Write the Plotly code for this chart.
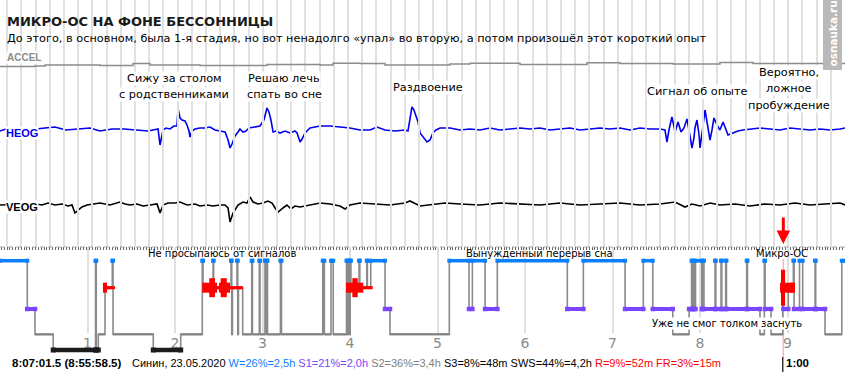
import plotly.graph_objects as go

# ======================= DATA =======================
TITLE = "МИКРО-ОС НА ФОНЕ БЕССОННИЦЫ"
SUBTITLE = ("До этого, в основном, была 1-я стадия, но вот ненадолго «упал» во вторую, "
            "а потом произошёл этот короткий опыт")

# 1-minute epoch, time in seconds, amplitude in µV
HEOG = [(-0.50,-10),(-0.08,10),(0.35,0),(0.91,20),(1.40,-10),(2.04,10),(2.67,20),(3.37,30),(4.15,0),
        (4.99,10),(5.84,20),(6.54,-10),(7.39,10),(8.23,10),(9.08,0),(9.92,-10),(10.63,10),(10.77,-150),
        (10.84,-100),(10.98,0),(11.19,20),(11.47,10),(11.75,40),(11.96,40),(12.04,210),(12.18,120),
        (12.32,100),(12.53,90),(12.67,50),(12.81,-10),(12.88,-70),(13.02,-10),(13.23,10),(13.58,20),
        (13.94,20),(14.29,30),(14.64,0),(14.99,-10),(15.35,-20),(15.56,-100),(15.70,-180),(15.84,-140),
        (16.05,-60),(16.26,-20),(16.40,10),(16.61,-20),(16.82,-10),(17.04,20),(17.46,30),(17.81,40),
        (18.09,100),(18.30,220),(18.44,180),(18.58,100),(18.73,-20),(18.94,-10),(19.22,-30),(19.57,-10),
        (19.92,-30),(20.27,-10),(20.42,-30),(20.63,-120),(20.77,-90),(20.98,-30),(21.33,20),(22.04,40),
        (22.74,40),(23.44,30),(24.15,20),(24.85,0),(25.56,0),(26.05,30),(26.61,0),(27.32,-10),(28.02,0),
        (28.23,-10),(28.37,100),(28.51,230),(28.65,200),(28.80,140),(28.94,80),(29.08,-30),(29.36,-80),
        (29.57,-120),(29.78,-100),(29.99,-30),(30.20,0),(30.49,20),(31.19,20),(31.89,0),(32.60,10),
        (33.30,0),(34.01,20),(34.71,0),(35.42,10),(36.12,20),(36.82,10),(37.53,20),(38.23,0),(38.94,10),
        (39.64,20),(40.35,0),(41.05,10),(41.75,20),(42.46,10),(43.16,20),(43.87,0),(44.57,20),(45.27,10),
        (45.98,10),(46.33,0),(46.47,-120),(46.61,0),(46.82,130),(46.96,40),(47.04,-20),(47.25,80),
        (47.46,-20),(47.67,20),(47.88,110),(48.02,0),(48.23,-180),(48.37,-80),(48.44,20),(48.58,100),
        (48.73,-50),(48.80,-180),(48.94,-20),(49.15,200),(49.29,80),(49.50,-100),(49.64,0),(49.78,120),
        (49.99,50),(50.20,0),(50.42,80),(50.63,0),(50.77,-50),(51.12,-30),(51.47,-10),(51.82,0),
        (52.32,10),(53.02,20),(53.73,10),(54.43,0),(55.13,20),(55.84,10),(56.54,0),(57.25,10),
        (57.95,0),(58.66,10),(59.01,20)]

VEOG = [(-0.50,0),(2.04,10),(2.46,0),(2.88,20),(3.37,0),(3.87,10),(4.29,-10),(4.57,0),(4.78,-80),
        (4.99,-50),(5.27,-20),(5.63,0),(6.05,10),(6.54,20),(7.25,0),(7.81,20),(7.95,30),(8.30,10),
        (8.65,0),(9.15,10),(9.57,-10),(10.06,0),(10.56,10),(10.77,-80),(10.98,0),(11.33,20),(11.82,20),
        (12.18,30),(12.67,0),(13.23,10),(13.58,-10),(14.08,0),(14.50,-10),(14.99,0),(15.35,0),
        (15.56,-30),(15.70,-170),(15.91,-80),(16.26,0),(16.61,30),(16.89,20),(17.11,80),(17.32,30),
        (17.67,10),(18.02,20),(18.37,40),(18.66,20),(18.87,-30),(19.08,-70),(19.43,-30),(19.71,0),
        (19.99,-40),(20.27,-10),(20.63,-20),(21.33,0),(22.04,20),(22.74,10),(23.44,-10),(23.80,-40),
        (24.15,0),(24.85,20),(25.91,10),(26.97,0),(28.02,20),(28.37,40),(29.08,-10),(29.78,0),
        (30.84,20),(31.89,10),(33.30,0),(34.71,20),(36.12,10),(37.53,0),(38.94,20),(40.35,0),
        (41.75,10),(43.16,20),(44.57,0),(45.98,10),(47.04,30),(47.74,-20),(48.23,10),(48.80,-10),
        (49.50,20),(50.20,0),(51.26,10),(52.32,-10),(53.37,10),(54.43,0),(55.49,20),(56.54,0),
        (57.60,10),(58.66,20),(59.01,0)]

ACCEL = [(-0.50,-25),(1.96,-20),(2.67,-10),(4.43,-10),(6.54,-15),(8.87,5),(10.06,-10),(12.18,-10),
         (13.58,-15),(18.30,-5),(22.04,-10),(22.95,7),(24.85,5),(26.61,-10),(29.08,-10),(31.19,0),
         (32.60,7),(36.12,-5),(38.94,-5),(40.84,13),(43.16,5),(46.89,0),(50.20,15),(52.53,5),
         (55.84,5),(59.01,5)]

EOG_NOTES = ["Сижу за столом<br>с родственниками", "Решаю лечь<br>спать во сне", "Раздвоение",
             "Сигнал об опыте", "Вероятно,<br>ложное<br>пробуждение"]

# hypnogram: stage changes (minutes from start)
stage_start_min = [0.0, 18.7, 24.0, 36.5, 65.5, 66.0, 67.4, 72.0, 77.0, 77.5, 105.1, 123.9, 138.7,
                   139.2, 146.1, 146.5, 158.4, 158.9, 159.4, 162.5, 163.0, 163.5, 166.4, 172.6, 173.1,
                   177.8, 178.3, 181.7, 182.2, 182.9, 183.4, 192.3, 193.0, 221.3, 222.4, 227.0, 228.5,
                   237.6, 238.1, 239.0, 239.5, 240.1, 240.6, 246.2, 246.7, 251.5, 251.9, 254.2, 264.0,
                   267.4, 308.1, 321.6, 323.9, 332.6, 341.0, 389.0, 400.0, 428.6, 441.1, 447.6, 461.3,
                   472.5, 474.2, 474.6, 475.5, 476.0, 476.9, 481.2, 481.6, 482.7, 490.3, 490.8, 494.4,
                   494.9, 497.6, 498.1, 512.0, 512.5, 521.1, 524.1, 524.6, 528.7, 536.7, 537.2, 540.5,
                   544.0, 544.5, 548.2, 550.4, 558.9, 559.3, 565.7, 577.2]
stage_seq = ["W","S1","S2","S3","W","S3","S2","R","W","S2","S3","S2","W","R","W","R","W","S2","R",
             "W","S2","R","S2","W","S2","W","S2","W","S2","W","S2","W","S2","W","S2","W","S2","W",
             "S2","W","S2","W","R","W","R","W","R","W","S1","S2","W","S1","W","S1","W","S1","W","S1",
             "W","S1","S2","S1","W","S1","W","S1","W","S1","W","S1","W","S1","W","S1","W","S1","W",
             "S1","S2","W","S1","S2","R","S1","R","W","S1","W","S1","W","S1","S2","W"]
night_end_min = 579.4

# rapid-eye-movement bursts drawn on the R row
rem_start_min = [70.6, 70.6, 138.7, 138.7, 143.5, 150.2, 151.3, 237.3, 237.3, 241.6, 534.9, 534.9, 535.5, 541.7]
rem_end_min   = [78.9, 73.4, 166.4, 148.8, 147.4, 157.7, 155.5, 255.6, 249.1, 245.3, 545.1, 545.1, 538.3, 543.6]
rem_level     = [1, 2, 1, 2, 3, 2, 3, 1, 2, 3, 1, 2, 4, 2]

hour_ticks_min = [60, 120, 180, 240, 300, 360, 420, 480, 540]
hour_labels = ["1", "2", "3", "4", "5", "6", "7", "8", "9"]
microos_min = 537.1

HYPNO_NOTES = ["Не просыпаюсь от сигналов", "Вынужденный перерыв сна", "Микро-ОС",
               "Уже не смог толком заснуть"]
RECORD_TIME = "8:07:01.5 (8:55:58.5)"
RECORD_INFO = "Синин, 23.05.2020"
STATS = [("W=26%=2,5h", "W"), ("S1=21%=2,0h", "S1"), ("S2=36%=3,4h", "S2"),
         ("S3=8%=48m SWS=44%=4,2h", "S3"), ("R=9%=52m FR=3%=15m", "R")]
EPOCH_LABEL = "1:00"
WATERMARK = "osnauka.ru"

assert len(stage_start_min) == len(stage_seq)

# ======================= STYLE / LAYOUT =======================
WPX, HPX = 845, 372
def py(p):  # pixel row -> paper y
    return 1 - p / HPX
def px(p):
    return p / WPX

EOG_TOP_BOTTOM = 247          # bottom of EOG panel (px)
HOUR_GRID_BOTTOM = 333
STAGE_LEVEL = {"W": 0, "R": 1.0, "S1": 1.79, "S2": 2.73, "S3": 3.31}
STAGE_COLOR = {"W": "#0a80ff", "R": "#ff0000", "S1": "#7b45ff", "S2": "#808080", "S3": "#1c1c1c"}
STAGE_WIDTH = {"W": 3.5, "R": 3, "S1": 4, "S2": 2, "S3": 4.5}
REM_WIDTH = {1: 3, 2: 10, 3: 19, 4: 36}
GRID = "#e0e0e0"
SANS = "DejaVu Sans"
ARIAL = "Liberation Sans"

fig = go.Figure()

# empty trace that owns the hour-grid subplot
fig.add_trace(go.Scatter(x=[None], y=[None], xaxis="x2", yaxis="y2", hoverinfo="skip", showlegend=False))

# ---- EOG panel ----
def unzip(pairs):
    return [a for a, _ in pairs], [b for _, b in pairs]

t, v = unzip(ACCEL)
fig.add_trace(go.Scatter(x=t, y=v, xaxis="x", yaxis="y6", mode="lines",
                         line=dict(color="#8c8c8c", width=1.5, shape="hv"), hoverinfo="skip"))
t, v = unzip(HEOG)
fig.add_trace(go.Scatter(x=t, y=v, xaxis="x", yaxis="y4", mode="lines",
                         line=dict(color="#0000ee", width=1.6), hoverinfo="skip"))
t, v = unzip(VEOG)
fig.add_trace(go.Scatter(x=t, y=v, xaxis="x", yaxis="y5", mode="lines",
                         line=dict(color="#000000", width=1.6), hoverinfo="skip"))

# ---- hypnogram ----
ends = stage_start_min[1:] + [night_end_min]
levels = [STAGE_LEVEL[s] for s in stage_seq]
fig.add_trace(go.Scatter(x=stage_start_min + [night_end_min], y=levels + [levels[-1]],
                         xaxis="x3", yaxis="y3", mode="lines",
                         line=dict(color="#8a8a8a", width=1.6, shape="hv"), hoverinfo="skip"))

for st in ["S2", "R", "S3", "S1", "W"]:
    xs, ys = [], []
    for s0, s1, s in zip(stage_start_min, ends, stage_seq):
        if s == st:
            xs += [s0, s1, None]
            ys += [STAGE_LEVEL[s], STAGE_LEVEL[s], None]
    with_mark = st in ("W", "S1", "S3")
    fig.add_trace(go.Scatter(x=xs, y=ys, xaxis="x3", yaxis="y3",
                             mode="lines+markers" if with_mark else "lines",
                             line=dict(color=STAGE_COLOR[st], width=STAGE_WIDTH[st]),
                             marker=dict(symbol="square", size=STAGE_WIDTH[st] + 0.5,
                                         color=STAGE_COLOR[st], line=dict(width=0)),
                             hoverinfo="skip"))

for lvl in sorted(set(rem_level)):
    xs, ys = [], []
    for a, b, l in zip(rem_start_min, rem_end_min, rem_level):
        if l == lvl:
            xs += [a, b, None]
            ys += [STAGE_LEVEL["R"], STAGE_LEVEL["R"], None]
    fig.add_trace(go.Scatter(x=xs, y=ys, xaxis="x3", yaxis="y3", mode="lines",
                             line=dict(color="#ff0000", width=REM_WIDTH[lvl]), hoverinfo="skip"))

# ---- annotations ----
ann = []
def text(x, y, s, size=12, color="black", family=SANS, xanchor="center", bg=None, **kw):
    d = dict(x=px(x), y=py(y), xref="paper", yref="paper", text=s, showarrow=False,
             xanchor=xanchor, yanchor="middle", font=dict(size=size, color=color, family=family),
             borderpad=0)
    if bg:
        d["bgcolor"] = bg
    d.update(kw)
    ann.append(d)

text(6, 22, "<b>" + TITLE + "</b>", size=13, color="#1a1a1a", xanchor="left")
text(6, 38, SUBTITLE, size=11.3, xanchor="left")
text(6, 58, "<b>ACCEL</b>", size=10, color="#8c8c8c", family=ARIAL, xanchor="left", bg="white")
text(5, 132.5, "<b>HEOG</b>", size=11, color="#0000ee", family=ARIAL, xanchor="left", bg="white")
text(5, 207.5, "<b>VEOG</b>", size=11, color="black", family=ARIAL, xanchor="left", bg="white")

EOG_NOTE_POS = [(174, 78), (284, 78), (428, 87), (697, 91), (789, 72)]
LINE_STEP = 16.7
for note, (cx, y0) in zip(EOG_NOTES, EOG_NOTE_POS):
    for i, line in enumerate(note.split("<br>")):
        text(cx, y0 + i * LINE_STEP, line, size=11.3, bg="white")

HYPNO_NOTE_POS = [(222, 254, None), (539.5, 254, None), (782, 253.5, None), (727, 323, "white")]
for note, (cx, cy, bg) in zip(HYPNO_NOTES, HYPNO_NOTE_POS):
    text(cx, cy, note, size=10, bg=bg)

text(10.7, 363, "<b>" + RECORD_TIME + "</b>", size=11.5, family=ARIAL, xanchor="left")
stat_html = RECORD_INFO + " " + " ".join(
    '<span style="color:%s">%s</span>' % (STAGE_COLOR[k] if k != "S3" else "#000000", s) for s, k in STATS)
text(130.7, 363, stat_html, size=11, family=ARIAL, xanchor="left")
text(785, 363, "<b>" + EPOCH_LABEL + "</b>", size=11.5, family=ARIAL, xanchor="left")

# vertical site watermark in a grey box at the top-right corner
ann.append(dict(x=px(832.5), y=py(34), xref="paper", yref="paper", text="<b>" + WATERMARK + "</b>",
                showarrow=False, textangle=-90, font=dict(size=10.5, color="white", family=SANS),
                bgcolor="#b9b9b9", borderpad=3, xanchor="center", yanchor="middle"))

# arrow marking the micro-OBE
ann.append(dict(x=microos_min, xref="x3", y=py(244), yref="paper", text="", showarrow=True,
                ax=0, ay=-28, arrowhead=2, arrowsize=0.9, arrowwidth=3, arrowcolor="#ff0000", standoff=0))

shapes = [
    dict(type="line", xref="paper", yref="paper", x0=0, x1=1, y0=py(EOG_TOP_BOTTOM), y1=py(EOG_TOP_BOTTOM),
         line=dict(color="#a8a8a8", width=1, dash="5px,3px")),
    dict(type="line", xref="x3", yref="paper", x0=microos_min, x1=microos_min, y0=0, y1=py(259),
         line=dict(color="#ffb4b4", width=1.5), layer="below"),
    dict(type="line", xref="x3", yref="paper", x0=microos_min - 0.4, x1=microos_min - 0.4, y0=0, y1=py(357),
         line=dict(color="#000000", width=1)),
]

eog_dom = [py(EOG_TOP_BOTTOM), 1]
fig.update_layout(
    width=WPX, height=HPX, autosize=False, margin=dict(l=0, r=0, t=0, b=0),
    paper_bgcolor="white", plot_bgcolor="rgba(0,0,0,0)", showlegend=False,
    xaxis=dict(domain=[0, 1], range=[-0.5, 59.007], anchor="y", side="top", showgrid=True,
               gridcolor=GRID, gridwidth=2, tick0=0, dtick=1, ticks="inside", ticklen=3,
               tickcolor="#666666", tickwidth=1, showticklabels=False, zeroline=False, showline=False,
               minor=dict(dtick=0.2, ticks="inside", ticklen=3, tickcolor="#666666", showgrid=False)),
    yaxis=dict(domain=eog_dom, range=[EOG_TOP_BOTTOM, 0], anchor="x", tickvals=[147, 221],
               showgrid=True, gridcolor=GRID, gridwidth=2, showticklabels=False, ticks="",
               zeroline=False, showline=False),
    yaxis4=dict(overlaying="y", anchor="x", domain=eog_dom, range=[-1170, 1300], visible=False),
    yaxis5=dict(overlaying="y", anchor="x", domain=eog_dom, range=[-420, 2050], visible=False),
    yaxis6=dict(overlaying="y", anchor="x", domain=eog_dom, range=[-1830, 640], visible=False),
    xaxis2=dict(domain=[0, 1], range=[0, night_end_min], anchor="y2", tickvals=hour_ticks_min,
                ticktext=hour_labels, showgrid=True, gridcolor=GRID, gridwidth=2, ticks="",
                tickfont=dict(size=14, color="#8a8a8a", family=SANS), zeroline=False, showline=False),
    yaxis2=dict(domain=[py(HOUR_GRID_BOTTOM), py(EOG_TOP_BOTTOM)], range=[0, 1], anchor="x2", visible=False),
    xaxis3=dict(domain=[0, 1], range=[0, night_end_min], anchor="y3", visible=False),
    yaxis3=dict(domain=[0, py(EOG_TOP_BOTTOM)], range=[4.125, -0.508], anchor="x3", visible=False),
    annotations=ann, shapes=shapes,
)

fig.write_html("out.html", config={"displayModeBar": False, "staticPlot": True})

# remove the browser's default page margin so the figure sits at the window's top-left corner
with open("out.html", encoding="utf-8") as f:
    html = f.read()
html = html.replace("<head>", "<head><style>html,body{margin:0;padding:0;overflow:hidden}</style>", 1)
with open("out.html", "w", encoding="utf-8") as f:
    f.write(html)
